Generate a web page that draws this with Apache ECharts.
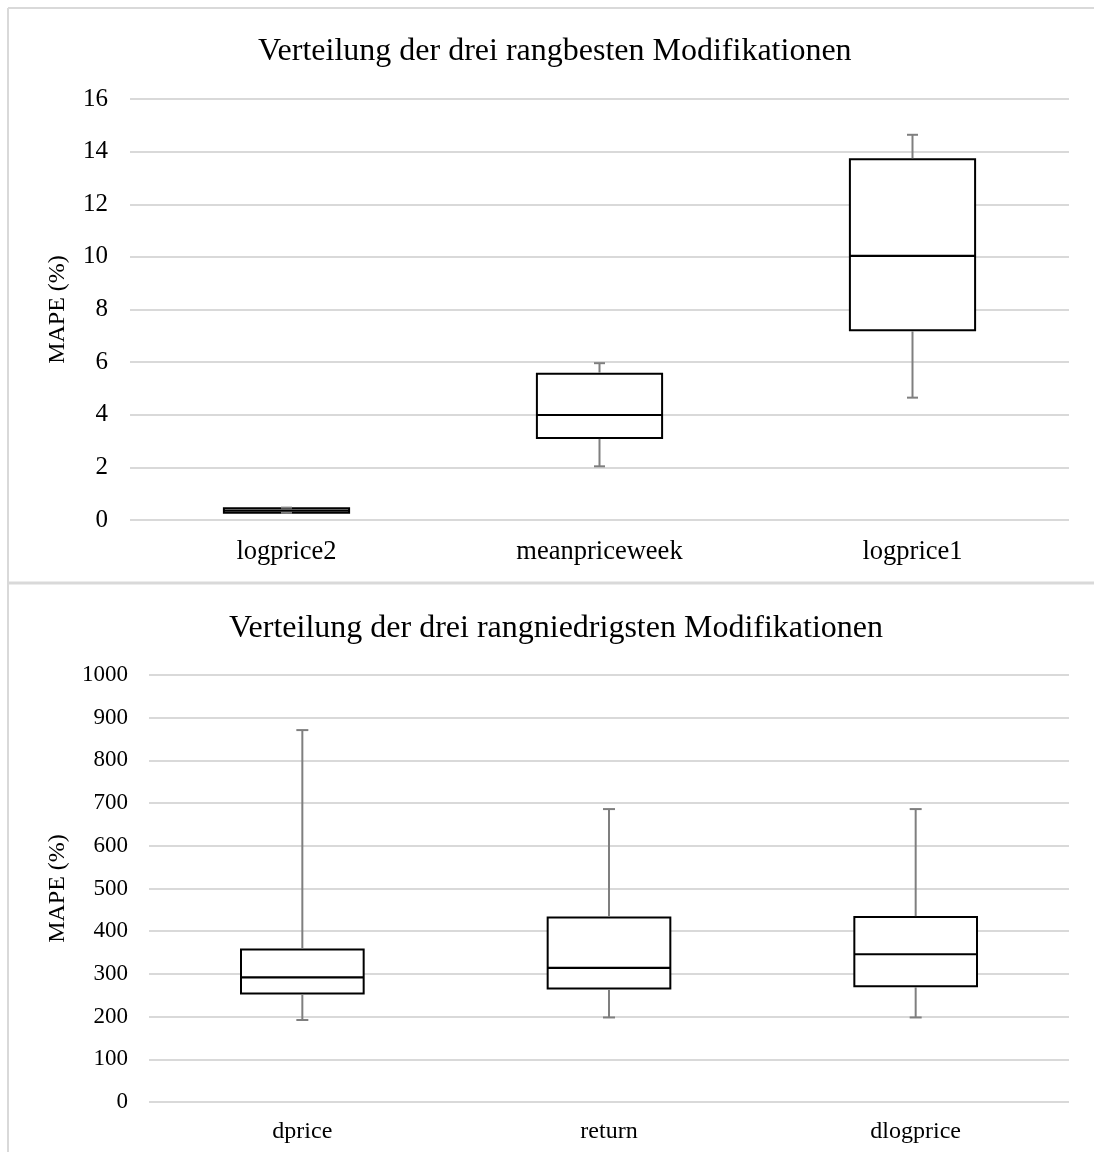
<!DOCTYPE html>
<html>
<head>
<meta charset="utf-8">
<script src="https://cdn.jsdelivr.net/npm/echarts@6/dist/echarts.min.js"></script>
<style>
html,body{margin:0;padding:0;background:#fff;}
#c{width:1094px;height:1152px;}
</style>
</head>
<body>
<div id="c"></div>
<script>
// ---- Data ----
const titleTop = 'Verteilung der drei rangbesten Modifikationen';
const titleBottom = 'Verteilung der drei rangniedrigsten Modifikationen';
const yAxisName = 'MAPE (%)';

const categoriesTop = ['logprice2', 'meanpriceweek', 'logprice1'];
const minTop    = [0.27, 2.04, 4.65];
const q1Top     = [0.28, 3.12, 7.21];
const medianTop = [0.36, 3.99, 10.04];
const q3Top     = [0.45, 5.56, 13.71];
const maxTop    = [0.47, 5.96, 14.64];
const yTicksTop = {min: 0, max: 16, interval: 2};

const categoriesBottom = ['dprice', 'return', 'dlogprice'];
const minBottom    = [192, 198, 198];
const q1Bottom     = [254, 266, 271];
const medianBottom = [292, 314, 346];
const q3Bottom     = [357, 432, 433];
const maxBottom    = [871, 686, 686];
const yTicksBottom = {min: 0, max: 1000, interval: 100};

// ---- Build ----
function rows(mins, q1s, meds, q3s, maxs) {
  return mins.map((m, i) => [i, m, q1s[i], meds[i], q3s[i], maxs[i]]);
}

const FONT = '"Liberation Serif", "Times New Roman", serif';
const GRID_COLOR = '#d9d9d9';
const WHISKER = '#7f7f7f';

function makeRender(capW) {
  return function (params, api) {
    const x = api.value(0);
    const pMin = api.coord([x, api.value(1)]);
    const pQ1 = api.coord([x, api.value(2)]);
    const pMed = api.coord([x, api.value(3)]);
    const pQ3 = api.coord([x, api.value(4)]);
    const pMax = api.coord([x, api.value(5)]);
    const bw = api.size([1, 0])[0] * 0.4;
    const cx = pMed[0];
    const wStyle = {stroke: WHISKER, lineWidth: 2};
    return {
      type: 'group',
      children: [
        {type: 'rect', shape: {x: cx - bw / 2, y: pQ3[1], width: bw, height: pQ1[1] - pQ3[1]},
         style: {fill: '#fff', stroke: '#000', lineWidth: 2}},
        {type: 'line', shape: {x1: cx - bw / 2, y1: pMed[1], x2: cx + bw / 2, y2: pMed[1]},
         style: {stroke: '#000', lineWidth: 2.2}},
        {type: 'line', shape: {x1: cx, y1: pMax[1], x2: cx, y2: pQ3[1] - 1}, style: wStyle},
        {type: 'line', shape: {x1: cx, y1: pQ1[1] + 1, x2: cx, y2: pMin[1]}, style: wStyle},
        {type: 'line', shape: {x1: cx - capW / 2, y1: pMax[1], x2: cx + capW / 2, y2: pMax[1]}, style: wStyle},
        {type: 'line', shape: {x1: cx - capW / 2, y1: pMin[1], x2: cx + capW / 2, y2: pMin[1]}, style: wStyle}
      ]
    };
  };
}

function xAxis(cats, gridIndex, fs, margin) {
  return {
    type: 'category', gridIndex: gridIndex, data: cats,
    axisLine: {show: false}, axisTick: {show: false},
    axisLabel: {fontFamily: FONT, fontSize: fs, color: '#000', margin: margin},
    splitLine: {show: false}
  };
}
function yAxis(ticks, gridIndex, fs, margin, nameGap) {
  return {
    type: 'value', gridIndex: gridIndex, min: ticks.min, max: ticks.max, interval: ticks.interval,
    name: yAxisName, nameLocation: 'middle', nameGap: nameGap, nameRotate: 90,
    nameTextStyle: {fontFamily: FONT, fontSize: 24, color: '#000'},
    axisLine: {show: false}, axisTick: {show: false},
    axisLabel: {fontFamily: FONT, fontSize: fs, color: '#000', margin: margin,
                formatter: function (v) { return String(v); }},
    splitLine: {show: true, lineStyle: {color: GRID_COLOR, width: 2}}
  };
}

const chart = echarts.init(document.getElementById('c'), null, {renderer: 'canvas'});
chart.setOption({
  animation: false,
  backgroundColor: '#fff',
  title: [
    {text: titleTop, left: 253, top: 31,
     textStyle: {fontFamily: FONT, fontSize: 32, fontWeight: 'normal', color: '#000'}},
    {text: titleBottom, left: 224, top: 608,
     textStyle: {fontFamily: FONT, fontSize: 32, fontWeight: 'normal', color: '#000'}}
  ],
  grid: [
    {left: 130, right: 25, top: 99, height: 421},
    {left: 149, right: 25, top: 675, height: 427}
  ],
  xAxis: [xAxis(categoriesTop, 0, 26.5, 19), xAxis(categoriesBottom, 1, 24, 18)],
  yAxis: [yAxis(yTicksTop, 0, 25, 22, 60), yAxis(yTicksBottom, 1, 23, 21, 79)],
  graphic: [
    {type: 'line', shape: {x1: 8, y1: 8, x2: 1094, y2: 8}, style: {stroke: GRID_COLOR, lineWidth: 2}},
    {type: 'line', shape: {x1: 8, y1: 8, x2: 8, y2: 1152}, style: {stroke: GRID_COLOR, lineWidth: 2}},
    {type: 'line', shape: {x1: 8, y1: 583, x2: 1094, y2: 583}, style: {stroke: GRID_COLOR, lineWidth: 3}}
  ],
  series: [
    {type: 'custom', xAxisIndex: 0, yAxisIndex: 0, renderItem: makeRender(11),
     encode: {x: 0, y: [1, 2, 3, 4, 5]},
     data: rows(minTop, q1Top, medianTop, q3Top, maxTop)},
    {type: 'custom', xAxisIndex: 1, yAxisIndex: 1, renderItem: makeRender(12),
     encode: {x: 0, y: [1, 2, 3, 4, 5]},
     data: rows(minBottom, q1Bottom, medianBottom, q3Bottom, maxBottom)}
  ]
});
</script>
</body>
</html>
